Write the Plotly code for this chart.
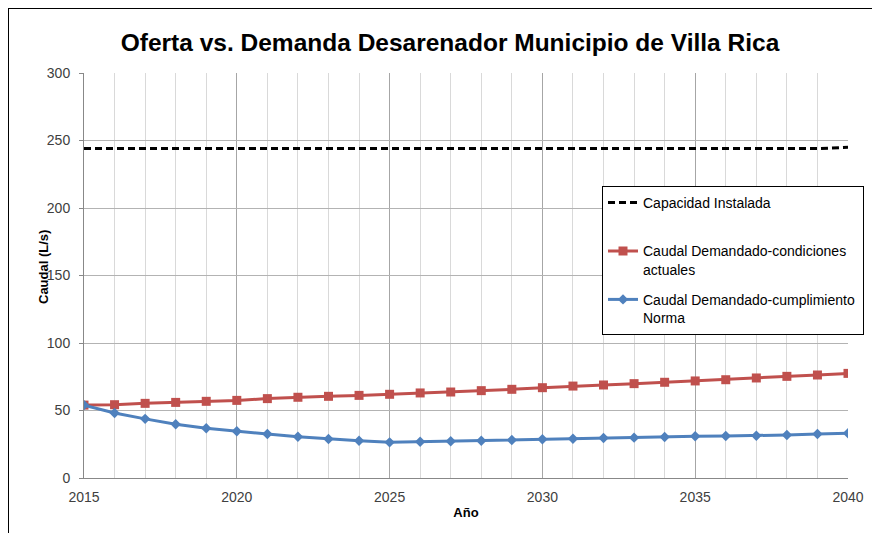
import plotly.graph_objects as go

years = list(range(2015, 2041))
capacidad = [244] * 25 + [245]
condiciones_actuales = [54.0, 54.3, 55.3, 56.0, 56.8, 57.5, 58.8, 59.8, 60.5, 61.2, 62.0, 63.0, 63.7,
                        64.7, 65.7, 66.9, 68.1, 68.9, 69.9, 70.9, 71.9, 72.8, 74.1, 75.3, 76.3, 77.5]
cumplimiento_norma = [54.0, 48.1, 43.8, 39.8, 36.9, 34.6, 32.6, 30.6, 28.9, 27.6, 26.4, 26.9, 27.2,
                      27.6, 28.1, 28.7, 29.1, 29.6, 29.9, 30.4, 30.9, 31.1, 31.3, 31.9, 32.6, 33.1]

font = "Liberation Sans"
# page body has an 8px margin, so the figure is drawn at (8, 8)
W, H = 872, 525
L, T, R, B = 76, 65, 840, 470

fig = go.Figure()
fig.add_trace(go.Scatter(x=years, y=capacidad, mode="lines", name="Capacidad Instalada<br> ",
                         line=dict(color="black", width=3, dash="7px,4px"), legendgroup="a"))
fig.add_trace(go.Scatter(x=years, y=condiciones_actuales, mode="lines+markers",
                         name="Caudal Demandado-condiciones&nbsp;&nbsp;&nbsp;<br>actuales",
                         line=dict(color="#C0504D", width=3),
                         marker=dict(symbol="square", size=9, color="#C0504D"), legendgroup="b"))
fig.add_trace(go.Scatter(x=years, y=cumplimiento_norma, mode="lines+markers",
                         name="Caudal Demandado-cumplimiento<br>Norma",
                         line=dict(color="#4F81BD", width=3),
                         marker=dict(symbol="diamond", size=8, color="#4F81BD"), legendgroup="c"))

pw, ph = R - L, B - T
fig.update_layout(
    width=W, height=H,
    margin=dict(l=L, r=W - R, t=T, b=H - B),
    paper_bgcolor="white", plot_bgcolor="white",
    font=dict(family=font, size=14, color="#404040"),
    title=dict(text="<b>Oferta vs. Demanda Desarenador Municipio de Villa Rica</b>",
               x=(442 - L) / pw, xref="paper", xanchor="center",
               y=1 - 34 / H, yref="container", yanchor="middle",
               font=dict(family=font, size=24.5, color="black")),
    xaxis=dict(range=[2015, 2040], dtick=5, tick0=2015, showgrid=True, gridcolor="#a6a6a6",
               minor=dict(dtick=1, showgrid=True, gridcolor="#d9d9d9"),
               showline=True, linecolor="#888888", zeroline=False,
               ticklabelstandoff=6,
               title=dict(text="<b>Año</b>", font=dict(size=13, color="black"), standoff=4),
               tickfont=dict(size=14, color="#404040")),
    yaxis=dict(range=[0, 300], dtick=50, showgrid=True, gridcolor="#b3b3b3",
               showline=True, linecolor="#888888", zeroline=False,
               ticks="outside", ticklen=4, tickcolor="#888888",
               ticklabelstandoff=6,
               tickfont=dict(size=14, color="#404040")),
    legend=dict(x=(594 - L) / pw, y=(B - 178) / ph, xanchor="left", yanchor="top", bgcolor="white",
                bordercolor="black", borderwidth=1, valign="top", tracegroupgap=9,
                font=dict(family=font, size=14, color="black")),
    showlegend=True,
)
fig.add_annotation(text="<b>Caudal (L/s)</b>", textangle=-90, showarrow=False,
                   xref="paper", yref="paper", x=(35 - L) / pw, y=(B - 259) / ph,
                   xanchor="center", yanchor="middle",
                   font=dict(family=font, size=13, color="black"))
fig.add_shape(type="rect", xref="paper", yref="paper",
              x0=(0 - L) / pw, x1=(900 - L) / pw, y0=(B - 560) / ph, y1=(B - 0) / ph,
              line=dict(color="black", width=2), fillcolor="rgba(0,0,0,0)", layer="below")
fig.write_html("out.html")
